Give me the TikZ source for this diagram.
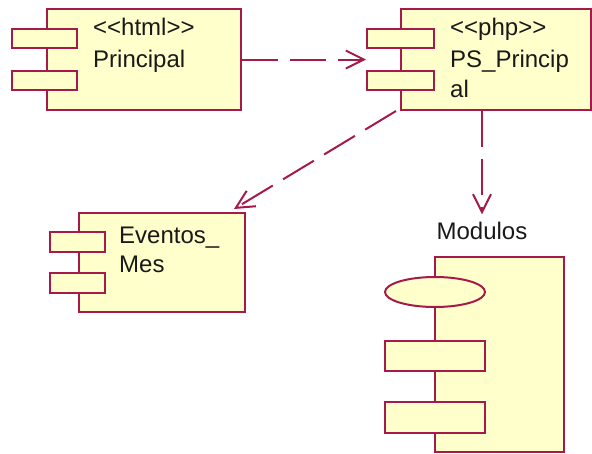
\documentclass[tikz,border=0pt]{standalone}
\usepackage{fontspec}
\setmainfont{Liberation Sans}
\usetikzlibrary{arrows.meta,shapes.geometric}
\definecolor{umlline}{RGB}{165,25,75}
\definecolor{umlfill}{RGB}{255,255,204}
\definecolor{umltext}{RGB}{25,25,25}
\tikzset{
  comp/.style={draw=umlline, fill=umlfill, line width=2pt, inner sep=0pt, rectangle},
  port/.style={draw=umlline, fill=umlfill, line width=2pt, inner sep=0pt, rectangle},
  lbl/.style={text=umltext, inner sep=0pt, font=\fontsize{24}{30}\selectfont, anchor=base west},
  dep/.style={draw=umlline, line width=2pt, dash pattern=on 36pt off 12pt, -{Straight Barb[length=18pt,width=18pt,line width=2pt]}}
}
\begin{document}
\begin{tikzpicture}[x=1pt,y=-1pt]
\useasboundingbox (0,0) rectangle (592,453);
% Principal
\node[comp, minimum width=194, minimum height=101] (prin) at (144,59.5) {};
\node[port, minimum width=65, minimum height=19] (prinA) at (44.5,38.5) {};
\node[port, minimum width=65, minimum height=19] (prinB) at (44.5,80) {};
\node[lbl] (prinT1) at (93,35) {<\kern0pt<html>\kern0pt>};
\node[lbl] (prinT2) at (93,67) {Principal};
% PS_Principal
\node[comp, minimum width=190, minimum height=101] (ps) at (496,59.5) {};
\node[port, minimum width=67, minimum height=19] (psA) at (400.5,38.5) {};
\node[port, minimum width=67, minimum height=19] (psB) at (400.5,80) {};
\node[lbl] (psT1) at (450,35) {<\kern0pt<php>\kern0pt>};
\node[lbl] (psT2) at (450,67) {PS\_Princip};
\node[lbl] (psT3) at (450,97) {al};
% Eventos_Mes
\node[comp, minimum width=166, minimum height=99] (ev) at (162,262.5) {};
\node[port, minimum width=55, minimum height=20] (evA) at (77.5,242) {};
\node[port, minimum width=55, minimum height=20] (evB) at (77.5,283) {};
\node[lbl] (evT1) at (119,243) {Eventos\_};
\node[lbl] (evT2) at (119,272) {Mes};
% Modulos
\node[lbl, anchor=base] (modT) at (482,239) {Modulos};
\node[comp, minimum width=129, minimum height=195] (mod) at (499.5,354.5) {};
\node[ellipse, draw=umlline, fill=umlfill, line width=2pt, inner sep=0pt, minimum width=100, minimum height=30] (modE) at (435,292) {};
\node[port, minimum width=100, minimum height=30] (modA) at (435,356) {};
\node[port, minimum width=100, minimum height=31] (modB) at (435,417.5) {};
% dependencies
\draw[dep] (prin.east) -- (prin.east -| psA.west);
\draw[dep] ([xshift=-4pt]ps.south west) -- ([xshift=-12pt,yshift=3pt]ev.north east);
\draw[dep] (ps.south -| modT.north) -- ([yshift=7pt]modT.north);
\end{tikzpicture}
\end{document}
